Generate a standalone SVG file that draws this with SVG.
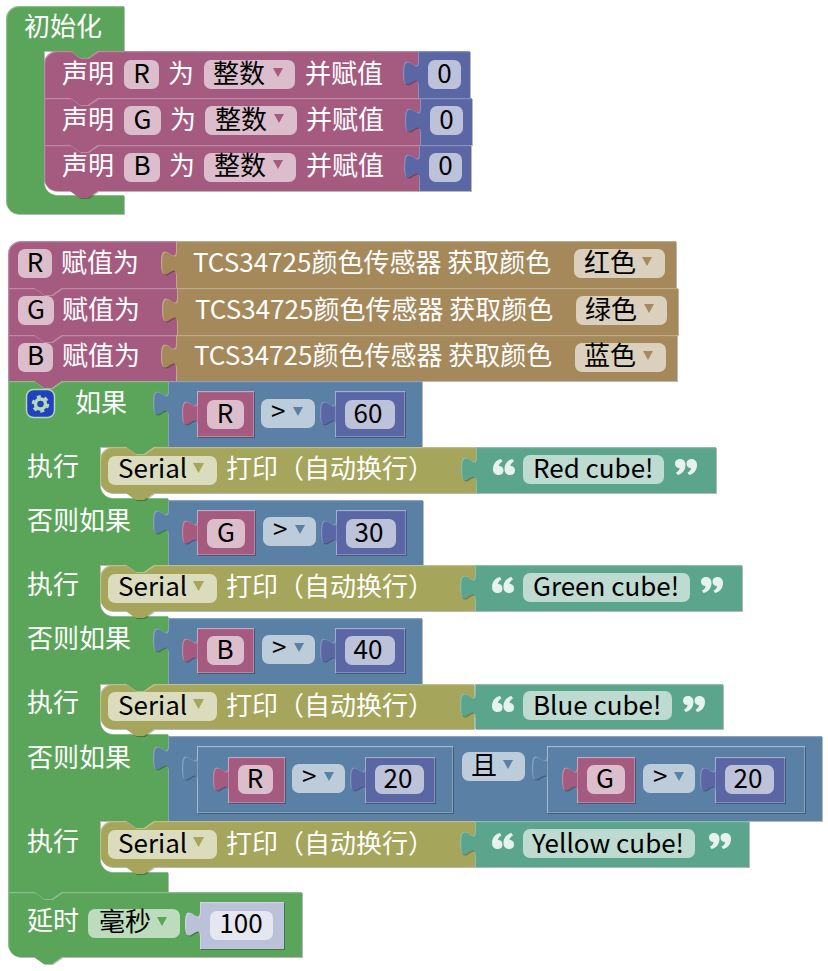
<svg xmlns="http://www.w3.org/2000/svg" width="828" height="971" viewBox="0 0 828 971">
<defs>
<style>
text{font-family:"Noto Sans CJK SC","Noto Sans",sans-serif;font-size:26px}
.w{fill:#fff}
.k{fill:#000}
.c{text-anchor:middle}
.s{filter:url(#bevel)}
.green{fill:#5ba55b}
.purple{fill:#a55b80}
.blue{fill:#5b67a5}
.steel{fill:#5b80a5}
.brown{fill:#a5895b}
.olive{fill:#a5a55b}
.teal{fill:#5ba58c}
.lilac{fill:#bcc1da}
.f{fill:#fff;fill-opacity:.6}
.q{fill:#fff;fill-opacity:.85}
.r{fill:none;stroke:#fff;stroke-opacity:.25}
</style>
<filter id="bevel" x="-5%" y="-5%" width="110%" height="110%" color-interpolation-filters="sRGB">
<feOffset in="SourceAlpha" dx="1" dy="1" result="o"/>
<feFlood flood-color="#000" flood-opacity=".28"/>
<feComposite in2="o" operator="in" result="shadow"/>
<feOffset in="SourceAlpha" dx="1.2" dy="1.2" result="o2"/>
<feComposite in="SourceAlpha" in2="o2" operator="out" result="edge"/>
<feFlood flood-color="#fff" flood-opacity=".28"/>
<feComposite in2="edge" operator="in" result="light"/>
<feMerge><feMergeNode in="shadow"/><feMergeNode in="SourceGraphic"/><feMergeNode in="light"/></feMerge>
</filter>
<path id="qo" d="M0,10c0,-5 3,-9 8,-10l1.500,2.500c-2,1 -3.500,2.500 -3.500,4.500c3,0 4.500,2 4.500,4.500c0,3 -2,4.500 -5,4.500c-3.500,0 -5.500,-2.500 -5.500,-6zM11.500,10c0,-5 3,-9 8,-10l1.500,2.500c-2,1 -3.500,2.500 -3.500,4.500c3,0 4.500,2 4.500,4.500c0,3 -2,4.500 -5,4.500c-3.500,0 -5.500,-2.500 -5.500,-6z"/>
<path id="qc" transform="rotate(180 11 8)" d="M0,10c0,-5 3,-9 8,-10l1.500,2.500c-2,1 -3.500,2.500 -3.500,4.500c3,0 4.500,2 4.500,4.500c0,3 -2,4.500 -5,4.500c-3.500,0 -5.500,-2.500 -5.500,-6zM11.500,10c0,-5 3,-9 8,-10l1.500,2.500c-2,1 -3.500,2.500 -3.500,4.500c3,0 4.500,2 4.500,4.500c0,3 -2,4.500 -5,4.500c-3.500,0 -5.500,-2.500 -5.500,-6z"/>
</defs>
<rect width="828" height="971" fill="#fff"/>
<g id="connectors"></g>

<g id="init">
<path class="green s" d="M6,19a13,13 0 0 1 13,-13H124V51H98l-10,7h-8l-10,-7H44V183a13,13 0 0 0 13,12H124V214H19a13,13 0 0 1 -13,-13z"/>
<text class="w" x="24" y="36">初始化</text>
</g>
<g id="decl-r">
<path class="purple s" d="M44,64a13,13 0 0 1 13,-13H70l10,7h8l10,-7H418V98H98l-10,7h-8l-10,-7H44z"/>
<text class="w" x="62" y="83">声明</text>
<rect class="f" x="124" y="60" width="35" height="29" rx="7"/><text class="k c" x="141.500" y="83">R</text>
<text class="w" x="168" y="83">为</text>
<rect class="f" x="204" y="60" width="91" height="29" rx="7"/><text class="k" x="213" y="83">整数</text><polygon class="purple" points="273,68 283,68 278,77"/>
<text class="w" x="305" y="83">并赋值</text>
<path class="blue s" d="M418,60V51H470V98H418V86c0,-17.500 -15,14 -15,-13s15,4.400 15,-13z"/>
<rect class="f" x="428" y="60" width="33" height="29" rx="7"/><text class="k c" x="444.500" y="83">0</text>
</g>
<g id="decl-g">
<path class="purple s" d="M44,98H70l10,7h8l10,-7H420V145H98l-10,7h-8l-10,-7H44z"/>
<text class="w" x="62" y="129">声明</text>
<rect class="f" x="124" y="106" width="37" height="29" rx="7"/><text class="k c" x="142.500" y="129">G</text>
<text class="w" x="170" y="129">为</text>
<rect class="f" x="205" y="106" width="92" height="29" rx="7"/><text class="k" x="215" y="129">整数</text><polygon class="purple" points="274,114 284,114 279,123"/>
<text class="w" x="306" y="129">并赋值</text>
<path class="blue s" d="M420,107V98H472V145H420V133c0,-17.500 -15,14 -15,-13s15,4.400 15,-13z"/>
<rect class="f" x="430" y="106" width="33" height="29" rx="7"/><text class="k c" x="446.500" y="129">0</text>
</g>
<g id="decl-b">
<path class="purple s" d="M44,145H70l10,7h8l10,-7H419V191H98l-10,7h-8l-10,-7H57a13,13 0 0 1 -13,-13z"/>
<text class="w" x="62" y="175">声明</text>
<rect class="f" x="124" y="153" width="36" height="29" rx="7"/><text class="k c" x="142" y="175">B</text>
<text class="w" x="169" y="175">为</text>
<rect class="f" x="204" y="153" width="92" height="29" rx="7"/><text class="k" x="214" y="175">整数</text><polygon class="purple" points="273,160 283,160 278,169"/>
<text class="w" x="306" y="175">并赋值</text>
<path class="blue s" d="M419,154V145H471V191H419V179c0,-17.500 -15,14 -15,-13s15,4.400 15,-13z"/>
<rect class="f" x="429" y="153" width="33" height="29" rx="7"/><text class="k c" x="445.500" y="175">0</text>
</g>

<g id="set-r">
<path class="purple s" d="M8,254a13,13 0 0 1 13,-13H176V288H62l-10,7h-8l-10,-7H8z"/>
<rect class="f" x="18" y="249" width="34" height="29" rx="7"/><text class="k c" x="35" y="272">R</text>
<text class="w" x="61" y="272">赋值为</text>
<path class="brown s" d="M176,250V241H676V288H176V276c0,-17.500 -15,14 -15,-13s15,4.400 15,-13z"/>
<text class="w" x="193" y="272">TCS34725颜色传感器 获取颜色</text>
<rect class="f" x="574" y="249" width="91" height="29" rx="7"/><text class="k" x="584" y="272">红色</text><polygon class="brown" points="642,257 652,257 647,266"/>
</g>
<g id="set-g">
<path class="purple s" d="M8,288H34l10,7h8l10,-7H177V335H62l-10,7h-8l-10,-7H8z"/>
<rect class="f" x="18" y="296" width="36" height="29" rx="7"/><text class="k c" x="36" y="319">G</text>
<text class="w" x="62" y="319">赋值为</text>
<path class="brown s" d="M177,297V288H678V335H177V323c0,-17.500 -15,14 -15,-13s15,4.400 15,-13z"/>
<text class="w" x="195" y="319">TCS34725颜色传感器 获取颜色</text>
<rect class="f" x="576" y="296" width="91" height="29" rx="7"/><text class="k" x="585" y="319">绿色</text><polygon class="brown" points="644,304 654,304 649,313"/>
</g>
<g id="set-b">
<path class="purple s" d="M8,335H34l10,7h8l10,-7H176V381H62l-10,7h-8l-10,-7H8z"/>
<rect class="f" x="18" y="343" width="35" height="29" rx="7"/><text class="k c" x="35.500" y="365">B</text>
<text class="w" x="62" y="365">赋值为</text>
<path class="brown s" d="M176,344V335H677V381H176V369c0,-17.500 -15,14 -15,-13s15,4.400 15,-13z"/>
<text class="w" x="194" y="365">TCS34725颜色传感器 获取颜色</text>
<rect class="f" x="575" y="343" width="91" height="29" rx="7"/><text class="k" x="584" y="365">蓝色</text><polygon class="brown" points="643,351 653,351 648,360"/>
</g>

<g id="if">
<path class="green s" d="M8,381H34l10,7h8l10,-7H168V447H154l-10,7h-8l-10,-7H100V485a13,13 0 0 0 13,13H168V565H154l-10,7h-8l-10,-7H100V603a13,13 0 0 0 13,13H168V684H154l-10,7h-8l-10,-7H100V721a13,13 0 0 0 13,13H168V821H154l-10,7h-8l-10,-7H100V859a13,13 0 0 0 13,13H168V892H62l-10,7h-8l-10,-7H8z"/>
<rect x="26.500" y="389.500" width="28" height="28" rx="7" fill="#2142c0" stroke="#b4d8b0" stroke-width="1.500"/>
<circle cx="40.500" cy="404" r="5" fill="none" stroke="#b8d8b4" stroke-width="3.500"/>
<circle cx="40.500" cy="404" r="7.500" fill="none" stroke="#b8d8b4" stroke-width="2.500" stroke-dasharray="4 3.854"/>
<text class="w" x="75" y="412">如果</text>
<text class="w" x="27" y="476">执行</text>
<text class="w" x="27" y="530">否则如果</text>
<text class="w" x="27" y="594">执行</text>
<text class="w" x="27" y="648">否则如果</text>
<text class="w" x="27" y="712">执行</text>
<text class="w" x="27" y="767">否则如果</text>
<text class="w" x="27" y="851">执行</text>
</g>

<g id="cmp-1">
<path class="steel s" d="M168,390V381H422V447H168V416c0,-17.500 -15,14 -15,-13s15,4.400 15,-13z"/>
<path class="purple s" d="M197,400V391H254V437H197V426c0,-17.500 -15,14 -15,-13s15,4.400 15,-13z"/>
<rect class="r" x="197.500" y="391.500" width="56" height="45"/>
<rect class="f" x="207" y="400" width="37" height="29" rx="7"/><text class="k c" x="225" y="423">R</text>
<rect class="f" x="261" y="399" width="54" height="29" rx="7"/><text class="k" x="271" y="421">&gt;</text><polygon class="steel" points="293,407 303,407 298,416"/>
<path class="blue s" d="M335,400V391H405V437H335V426c0,-17.500 -15,14 -15,-13s15,4.400 15,-13z"/>
<rect class="r" x="335.500" y="391.500" width="69" height="45"/>
<rect class="f" x="345" y="400" width="50" height="29" rx="7"/><text class="k c" x="368" y="423">60</text>
</g>
<g id="print-1">
<path class="olive s" d="M100,460a13,13 0 0 1 13,-13H126l10,7h8l10,-7H476V493H154l-10,7h-8l-10,-7H113a13,13 0 0 1 -13,-13z"/>
<rect class="f" x="108" y="456" width="109" height="29" rx="7"/><text class="k" x="118" y="478">Serial</text><polygon class="olive" points="193,463 204,463 198.500,473"/>
<text class="w" x="226" y="478">打印（自动换行）</text>
<path class="teal s" d="M476,456V447H716V493H476V482c0,-17.500 -15,14 -15,-13s15,4.400 15,-13z"/>
<use href="#qo" x="493" y="459" class="q"/>
<rect class="f" x="523" y="455" width="141" height="29" rx="7"/><text class="k" x="533" y="478">Red cube!</text>
<use href="#qc" x="675" y="459" class="q"/>
</g>
<g id="cmp-2">
<path class="steel s" d="M168,509V500H423V565H168V535c0,-17.500 -15,14 -15,-13s15,4.400 15,-13z"/>
<path class="purple s" d="M197,519V510H255V555H197V545c0,-17.500 -15,14 -15,-13s15,4.400 15,-13z"/>
<rect class="r" x="197.500" y="510.500" width="57" height="44"/>
<rect class="f" x="207" y="519" width="38" height="29" rx="7"/><text class="k c" x="226" y="542">G</text>
<rect class="f" x="263" y="517" width="53" height="29" rx="7"/><text class="k" x="273" y="539">&gt;</text><polygon class="steel" points="295,525 305,525 300,534"/>
<path class="blue s" d="M336,519V510H406V555H336V545c0,-17.500 -15,14 -15,-13s15,4.400 15,-13z"/>
<rect class="r" x="336.500" y="510.500" width="69" height="44"/>
<rect class="f" x="346" y="519" width="50" height="29" rx="7"/><text class="k c" x="369" y="542">30</text>
</g>
<g id="print-2">
<path class="olive s" d="M100,578a13,13 0 0 1 13,-13H126l10,7h8l10,-7H475V611H154l-10,7h-8l-10,-7H113a13,13 0 0 1 -13,-13z"/>
<rect class="f" x="108" y="574" width="109" height="29" rx="7"/><text class="k" x="118" y="596">Serial</text><polygon class="olive" points="193,581 204,581 198.500,591"/>
<text class="w" x="226" y="596">打印（自动换行）</text>
<path class="teal s" d="M475,574V565H742V611H475V600c0,-17.500 -15,14 -15,-13s15,4.400 15,-13z"/>
<use href="#qo" x="492" y="577" class="q"/>
<rect class="f" x="523" y="573" width="167" height="29" rx="7"/><text class="k" x="533" y="596">Green cube!</text>
<use href="#qc" x="701" y="577" class="q"/>
</g>
<g id="cmp-3">
<path class="steel s" d="M168,627V618H422V684H168V653c0,-17.500 -15,14 -15,-13s15,4.400 15,-13z"/>
<path class="purple s" d="M197,637V628H254V673H197V663c0,-17.500 -15,14 -15,-13s15,4.400 15,-13z"/>
<rect class="r" x="197.500" y="628.500" width="56" height="44"/>
<rect class="f" x="207" y="636" width="37" height="29" rx="7"/><text class="k c" x="225" y="659">B</text>
<rect class="f" x="262" y="635" width="53" height="29" rx="7"/><text class="k" x="272" y="657">&gt;</text><polygon class="steel" points="294,643 304,643 299,652"/>
<path class="blue s" d="M335,637V628H405V673H335V663c0,-17.500 -15,14 -15,-13s15,4.400 15,-13z"/>
<rect class="r" x="335.500" y="628.500" width="69" height="44"/>
<rect class="f" x="345" y="636" width="50" height="29" rx="7"/><text class="k c" x="368" y="659">40</text>
</g>
<g id="print-3">
<path class="olive s" d="M100,697a13,13 0 0 1 13,-13H126l10,7h8l10,-7H474V729H154l-10,7h-8l-10,-7H113a13,13 0 0 1 -13,-13z"/>
<rect class="f" x="108" y="692" width="109" height="29" rx="7"/><text class="k" x="118" y="715">Serial</text><polygon class="olive" points="193,699 204,699 198.500,709"/>
<text class="w" x="226" y="715">打印（自动换行）</text>
<path class="teal s" d="M475,693V684H723V729H475V718c0,-17.500 -15,14 -15,-13s15,4.400 15,-13z"/>
<use href="#qo" x="492" y="696" class="q"/>
<rect class="f" x="523" y="691" width="149" height="29" rx="7"/><text class="k" x="533" y="715">Blue cube!</text>
<use href="#qc" x="683" y="696" class="q"/>
</g>
<g id="and">
<path class="steel s" d="M168,745V736H822V821H168V771c0,-17.500 -15,14 -15,-13s15,4.400 15,-13z"/>
<path class="steel s" d="M197,755V746H453V813H197V781c0,-17.500 -15,14 -15,-13s15,4.400 15,-13z"/>
<rect class="r" x="197.500" y="746.500" width="255" height="66"/>
<path class="purple s" d="M228,766V757H285V803H228V792c0,-17.500 -15,14 -15,-13s15,4.400 15,-13z"/>
<rect class="r" x="228.500" y="757.500" width="56" height="45"/>
<rect class="f" x="238" y="765" width="35" height="29" rx="7"/><text class="k c" x="255" y="788">R</text>
<rect class="f" x="292" y="764" width="53" height="29" rx="7"/><text class="k" x="302" y="786">&gt;</text><polygon class="steel" points="324,772 334,772 329,781"/>
<path class="blue s" d="M365,766V757H435V803H365V792c0,-17.500 -15,14 -15,-13s15,4.400 15,-13z"/>
<rect class="r" x="365.500" y="757.500" width="69" height="45"/>
<rect class="f" x="375" y="765" width="49" height="29" rx="7"/><text class="k c" x="398" y="788">20</text>
<rect class="f" x="462" y="752" width="63" height="29" rx="7"/><text class="k" x="471" y="775">且</text><polygon class="steel" points="503,760 513,760 508,769"/>
<path class="steel s" d="M547,755V746H805V813H547V781c0,-17.500 -15,14 -15,-13s15,4.400 15,-13z"/>
<rect class="r" x="547.500" y="746.500" width="257" height="66"/>
<path class="purple s" d="M577,766V757H635V803H577V792c0,-17.500 -15,14 -15,-13s15,4.400 15,-13z"/>
<rect class="r" x="577.500" y="757.500" width="57" height="45"/>
<rect class="f" x="587" y="765" width="38" height="29" rx="7"/><text class="k c" x="605" y="788">G</text>
<rect class="f" x="643" y="764" width="52" height="29" rx="7"/><text class="k" x="653" y="786">&gt;</text><polygon class="steel" points="674,772 684,772 679,781"/>
<path class="blue s" d="M715,766V757H785V803H715V792c0,-17.500 -15,14 -15,-13s15,4.400 15,-13z"/>
<rect class="r" x="715.500" y="757.500" width="69" height="45"/>
<rect class="f" x="725" y="765" width="49" height="29" rx="7"/><text class="k c" x="748" y="788">20</text>
</g>
<g id="print-4">
<path class="olive s" d="M100,834a13,13 0 0 1 13,-13H126l10,7h8l10,-7H475V867H154l-10,7h-8l-10,-7H113a13,13 0 0 1 -13,-13z"/>
<rect class="f" x="108" y="830" width="109" height="29" rx="7"/><text class="k" x="118" y="853">Serial</text><polygon class="olive" points="193,837 204,837 198.500,847"/>
<text class="w" x="226" y="853">打印（自动换行）</text>
<path class="teal s" d="M475,830V821H749V867H475V856c0,-17.500 -15,14 -15,-13s15,4.400 15,-13z"/>
<use href="#qo" x="492" y="833" class="q"/>
<rect class="f" x="523" y="829" width="172" height="29" rx="7"/><text class="k" x="532" y="853">Yellow cube!</text>
<use href="#qc" x="709" y="833" class="q"/>
</g>
<g id="delay">
<path class="green s" d="M8,892H34l10,7h8l10,-7H302V957H62l-10,7h-8l-10,-7H21a13,13 0 0 1 -13,-13z"/>
<text class="w" x="27" y="930">延时</text>
<rect class="f" x="88" y="909" width="92" height="29" rx="7"/><text class="k" x="99" y="931">毫秒</text><polygon class="green" points="157,917 167,917 162,926"/>
<path class="lilac s" d="M200,911V902H284V949H200V937c0,-17.500 -15,14 -15,-13s15,4.400 15,-13z"/>
<rect class="f" x="210" y="911" width="63" height="29" rx="7"/><text class="k c" x="241" y="933">100</text>
</g>
</svg>
